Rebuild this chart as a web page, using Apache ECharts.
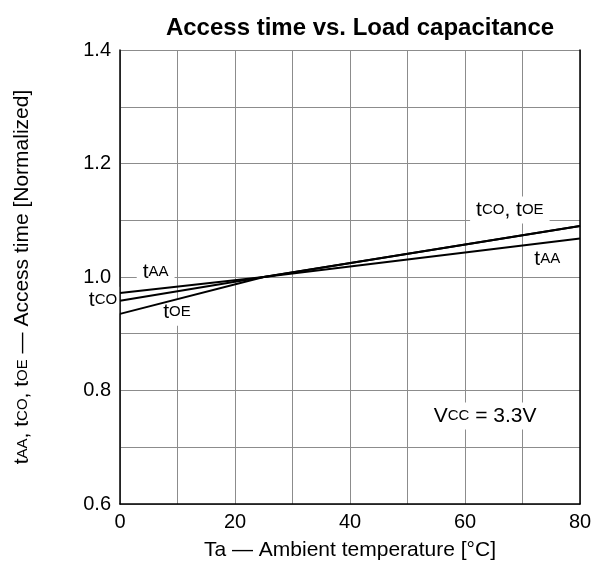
<!DOCTYPE html>
<html>
<head>
<meta charset="utf-8">
<script src="https://cdn.jsdelivr.net/npm/echarts@6/dist/echarts.min.js"></script>
<style>
  html, body { margin: 0; padding: 0; background: #fff; }
  #chart { width: 603px; height: 568px; }
</style>
</head>
<body>
<div id="chart"></div>
<script>
// ambient temperature (°C) where the curves were read
const temps = [0, 25, 80];
// normalized access time
const tAA = [0.972, 1.0, 1.068];
const tCO = [0.958, 1.0, 1.09];
const tOE = [0.935, 1.0, 1.09];

const xTicks = [0, 20, 40, 60, 80];
const yTicks = [0.6, 0.8, 1.0, 1.2, 1.4];

const font = "Liberation Sans, Arial, sans-serif";
const gridGray = "#8c8c8c";

const sub = {
  t: { fontSize: 21, fontFamily: font, color: "#000" },
  s: { fontSize: 15, fontFamily: font, color: "#000" }
};

// in-plot annotations, placed in data coordinates (offset in px for the one left of the axis)
const notes = [
  { text: "{t|t}{s|AA}", at: [6.2, 1.009] },
  { text: "{t|t}{s|CO}", at: [0, 0.959], shift: [-17, 0] },
  { text: "{t|t}{s|OE}", at: [9.9, 0.938] },
  { text: "{t|t}{s|CO}{t|, t}{s|OE}", at: [67.8, 1.118] },
  { text: "{t|t}{s|AA}", at: [74.3, 1.032] },
  { text: "{t|V}{s|CC}{t| = 3.3V}", at: [63.5, 0.755] }
];

const pairs = arr => temps.map((t, i) => [t, arr[i]]);

const lineSeries = (name, arr) => ({
  name: name,
  type: "line",
  data: pairs(arr),
  symbol: "none",
  lineStyle: { color: "#000", width: 2 },
  z: 6
});

const chart = echarts.init(document.getElementById("chart"));

const option = {
  animation: false,
  backgroundColor: "#fff",
  title: {
    text: "Access time vs. Load capacitance",
    left: 355,
    textAlign: "center",
    top: 11,
    textStyle: { fontFamily: font, fontSize: 24, fontWeight: "bold", color: "#000" }
  },
  grid: { left: 120, right: 23, top: 50, bottom: 64 },
  xAxis: {
    type: "value",
    min: xTicks[0],
    max: xTicks[xTicks.length - 1],
    interval: 20,
    name: "Ta — Ambient temperature [°C]",
    nameLocation: "middle",
    nameGap: 36,
    nameTextStyle: { fontFamily: font, fontSize: 21, color: "#000" },
    axisLine: { lineStyle: { color: "#000", width: 1.5 } },
    axisTick: { show: false },
    axisLabel: { fontFamily: font, fontSize: 20, color: "#000", margin: 8 },
    splitLine: { lineStyle: { color: gridGray, width: 1 } },
    minorTick: { show: false, splitNumber: 2 },
    minorSplitLine: { show: true, lineStyle: { color: gridGray, width: 1 } }
  },
  yAxis: [
    {
      type: "value",
      min: yTicks[0],
      max: yTicks[yTicks.length - 1],
      interval: 0.2,
      name: "{t|t}{s|AA}{t|, t}{s|CO}{t|, t}{s|OE}{t| — Access time [Normalized]}",
      nameLocation: "middle",
      nameGap: 87,
      nameRotate: 90,
      nameTextStyle: { rich: sub },
      axisLine: { show: true, lineStyle: { color: "#000", width: 1.5 } },
      axisTick: { show: false },
      axisLabel: {
        fontFamily: font, fontSize: 20, color: "#000", margin: 9,
        formatter: v => v.toFixed(1)
      },
      splitLine: { lineStyle: { color: gridGray, width: 1 } },
      minorTick: { show: false, splitNumber: 2 },
      minorSplitLine: { show: true, lineStyle: { color: gridGray, width: 1 } }
    },
    {
      type: "value",
      position: "right",
      min: yTicks[0],
      max: yTicks[yTicks.length - 1],
      interval: 0.2,
      axisLine: { show: true, lineStyle: { color: "#000", width: 1.5 } },
      axisTick: { show: false },
      axisLabel: { show: false },
      splitLine: { show: false }
    }
  ],
  series: [
    lineSeries("tAA", tAA),
    lineSeries("tCO", tCO),
    lineSeries("tOE", tOE),
    {
      type: "line",
      data: [],
      z: 3,
      markPoint: {
        z: 3,
        symbol: "circle",
        symbolSize: 0,
        silent: true,
        label: {
          show: true,
          position: "inside",
          backgroundColor: "#fff",
          padding: [3, 6],
          rich: sub
        },
        data: notes.map(n => ({
          coord: n.at,
          value: 0,
          label: n.shift
            ? { formatter: n.text, offset: n.shift, padding: [3, 2] }
            : { formatter: n.text }
        }))
      }
    }
  ]
};

chart.setOption(option);
</script>
</body>
</html>
